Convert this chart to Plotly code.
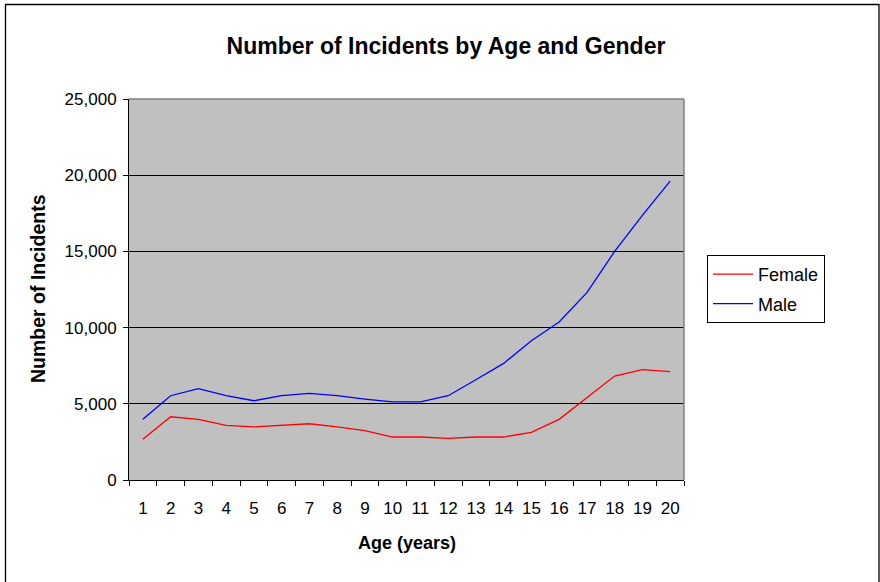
import plotly.graph_objects as go

ages = [str(i) for i in range(1, 21)]
female = [2670, 4150, 3980, 3590, 3480, 3590, 3690, 3480, 3240, 2820,
          2820, 2730, 2820, 2820, 3130, 3980, 5420, 6820, 7240, 7110]
male = [3980, 5530, 5990, 5530, 5200, 5530, 5690, 5530, 5310, 5120,
        5120, 5530, 6580, 7650, 9140, 10370, 12290, 15000, 17360, 19610]
y_ticks = [0, 5000, 10000, 15000, 20000, 25000]

FONT = "Liberation Sans, Arial, sans-serif"

fig = go.Figure()
fig.add_trace(go.Scatter(x=ages, y=female, name="Female", mode="lines", legendgroup="f",
                         line=dict(color="#FF0000", width=1.3)))
fig.add_trace(go.Scatter(x=ages, y=male, name="Male", mode="lines", legendgroup="m",
                         line=dict(color="#0000FF", width=1.3)))

L, R, T, B = 129, 196, 99, 102
W, H = 880, 582
pw, ph = W - L - R, H - T - B


def px(xp):
    return (xp - L) / pw


def py(yp):
    return (H - B - yp) / ph


fig.update_layout(
    width=W, height=H,
    margin=dict(l=L, r=R, t=T, b=B, autoexpand=False),
    paper_bgcolor="white", plot_bgcolor="#C0C0C0",
    font=dict(family=FONT, size=17, color="black"),
    title=dict(text="<b>Number of Incidents by Age and Gender</b>",
               x=446 / W, xanchor="center", y=1 - 46 / H, yanchor="middle",
               font=dict(size=23, family=FONT)),
    xaxis=dict(type="category", tickson="boundaries", ticks="outside",
               range=[-0.5, 19.5], tickangle=0, ticklabelstandoff=13,
               ticklen=5, tickcolor="black", showline=True, linecolor="black",
               linewidth=1, showgrid=False, tickfont=dict(size=17)),
    yaxis=dict(range=[0, 25000], tickvals=y_ticks, tickformat=",d", ticks="outside",
               ticklen=5, tickcolor="black", showline=True, linecolor="black",
               linewidth=1, showgrid=True, gridcolor="black", gridwidth=1,
               zeroline=False, tickfont=dict(size=17), ticklabelstandoff=3),
    legend=dict(x=px(707), y=py(255), xanchor="left", yanchor="top",
                bordercolor="black", borderwidth=1, bgcolor="white",
                font=dict(size=18), tracegroupgap=3, itemwidth=40,
                traceorder="grouped"),
    showlegend=True,
    annotations=[
        dict(text="<b>Age (years)</b>", xref="paper", yref="paper",
             x=px(407), y=py(543), xanchor="center", yanchor="middle",
             showarrow=False, font=dict(size=18)),
        dict(text="<b>Number of Incidents</b>", xref="paper", yref="paper",
             x=px(38), y=py(289), xanchor="center", yanchor="middle",
             textangle=-90, showarrow=False, font=dict(size=19.5)),
    ],
)

# gray plot border on top and right
fig.add_shape(type="line", xref="paper", yref="paper", x0=0, x1=1, y0=1, y1=1,
              line=dict(color="#808080", width=1.5), layer="above")
fig.add_shape(type="line", xref="paper", yref="paper", x0=1, x1=1, y0=0, y1=1,
              line=dict(color="#808080", width=1.5), layer="above")
# outer chart border (left, top, right)
fig.add_shape(type="path", xref="paper", yref="paper",
              path=f"M {px(5.5)} {py(H + 2)} L {px(5.5)} {py(4.5)} L {px(879)} {py(4.5)} L {px(879)} {py(H + 2)}",
              line=dict(color="black", width=1.3), layer="above")

fig.write_html("out.html", config={"displayModeBar": False},
               post_script="document.body.style.margin='0';document.body.style.overflow='hidden';")
